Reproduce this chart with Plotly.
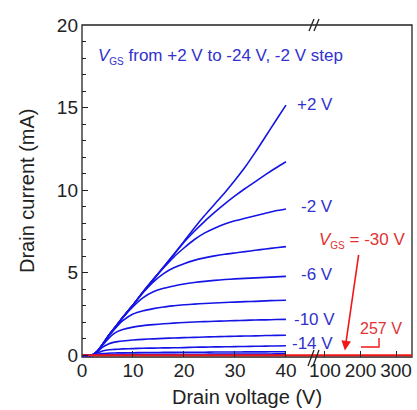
import plotly.graph_objects as go

# ---------------- data ----------------
vd = [0, 2, 3, 4, 5, 6, 7, 8, 10, 12, 14, 16, 18, 20, 22, 24, 26, 28, 30, 32, 34, 36, 38, 40]

id_p2 = [0, 0.02, 0.25, 0.65, 1.1, 1.5, 1.9, 2.3, 3.05, 3.85, 4.6, 5.35, 6.1, 6.9, 7.7, 8.45, 9.15, 9.85, 10.6, 11.4, 12.3, 13.25, 14.2, 15.15]
id_0 = [0, 0.02, 0.25, 0.65, 1.1, 1.5, 1.9, 2.3, 3.05, 3.85, 4.6, 5.35, 6.1, 6.85, 7.5, 8.1, 8.65, 9.17, 9.65, 10.1, 10.52, 10.94, 11.34, 11.72]
id_m2 = [0, 0.02, 0.25, 0.65, 1.1, 1.5, 1.9, 2.3, 3.05, 3.85, 4.6, 5.3, 5.95, 6.5, 7.0, 7.4, 7.7, 7.95, 8.15, 8.3, 8.45, 8.6, 8.75, 8.86]
id_m4 = [0, 0.02, 0.25, 0.65, 1.1, 1.5, 1.9, 2.3, 3.05, 3.8, 4.45, 4.95, 5.3, 5.55, 5.75, 5.9, 6.02, 6.12, 6.2, 6.28, 6.36, 6.44, 6.51, 6.58]
id_m6 = [0, 0.02, 0.25, 0.65, 1.1, 1.5, 1.9, 2.28, 2.95, 3.5, 3.85, 4.06, 4.2, 4.32, 4.41, 4.48, 4.54, 4.59, 4.63, 4.66, 4.69, 4.72, 4.75, 4.78]
id_m8 = [0, 0.02, 0.25, 0.65, 1.08, 1.45, 1.8, 2.1, 2.5, 2.7, 2.83, 2.93, 3.0, 3.06, 3.1, 3.14, 3.17, 3.2, 3.22, 3.25, 3.27, 3.3, 3.32, 3.34]
id_m10 = [0, 0.02, 0.25, 0.6, 0.95, 1.25, 1.45, 1.57, 1.71, 1.8, 1.86, 1.91, 1.95, 1.99, 2.02, 2.04, 2.06, 2.08, 2.1, 2.12, 2.14, 2.15, 2.17, 2.18]
id_m12 = [0, 0.02, 0.22, 0.48, 0.66, 0.77, 0.83, 0.87, 0.93, 0.97, 1.0, 1.03, 1.05, 1.07, 1.09, 1.11, 1.13, 1.14, 1.16, 1.17, 1.18, 1.2, 1.21, 1.22]
id_m14 = [0, 0.02, 0.14, 0.26, 0.32, 0.35, 0.37, 0.39, 0.41, 0.43, 0.44, 0.45, 0.46, 0.47, 0.49, 0.5, 0.51, 0.52, 0.53, 0.54, 0.55, 0.56, 0.57, 0.58]
id_m16 = [0, 0.01, 0.07, 0.11, 0.13, 0.14, 0.15, 0.15, 0.16, 0.17, 0.17, 0.18, 0.18, 0.19, 0.19, 0.19, 0.2, 0.2, 0.2, 0.21, 0.21, 0.21, 0.22, 0.22]
id_m18 = [0, 0.01, 0.03, 0.04, 0.05, 0.05, 0.05, 0.06, 0.06, 0.06, 0.06, 0.07, 0.07, 0.07, 0.07, 0.07, 0.08, 0.08, 0.08, 0.08, 0.08, 0.08, 0.09, 0.09]
id_m20 = [0, 0.01, 0.02, 0.02, 0.02, 0.02, 0.02, 0.02, 0.03, 0.03, 0.03, 0.03, 0.03, 0.03, 0.03, 0.03, 0.03, 0.03, 0.03, 0.03, 0.03, 0.03, 0.03, 0.03]
id_m22 = [0, 0.01, 0.01, 0.01, 0.01, 0.01, 0.01, 0.01, 0.02, 0.02, 0.02, 0.02, 0.02, 0.02, 0.02, 0.02, 0.02, 0.02, 0.02, 0.02, 0.02, 0.02, 0.02, 0.02]
id_m24 = [0, 0.0, 0.01, 0.01, 0.01, 0.01, 0.01, 0.01, 0.01, 0.01, 0.01, 0.01, 0.01, 0.01, 0.01, 0.01, 0.01, 0.01, 0.01, 0.01, 0.01, 0.01, 0.01, 0.01]

vgs_values = [2, 0, -2, -4, -6, -8, -10, -12, -14, -16, -18, -20, -22, -24]
blue_curves = [id_p2, id_0, id_m2, id_m4, id_m6, id_m8, id_m10, id_m12, id_m14,
               id_m16, id_m18, id_m20, id_m22, id_m24]

# V_GS = -30 V (off state) up to breakdown
v_off = [0, 20, 40, 100, 200, 257, 300, 345]
i_off = [0, 0, 0, 0, 0, 0, 0, 0]

left_ticks = [0, 10, 20, 30, 40]
right_ticks = [100, 200, 300]
y_ticks = [0, 5, 10, 15, 20]

curve_labels = ["+2 V", "-2 V", "-6 V", "-10 V", "-14 V"]
label_x = [41.8, 42.6, 42.6, 41.2, 40.8]
label_y = [15.2, 9.0, 4.9, 2.17, 0.72]

# ---------------- figure ----------------
BLUE = "#1414e6"
BLUE_TXT = "#3232cc"
RED = "#f01818"
RED_TXT = "#e03232"
FONT = "Liberation Sans, Arial, sans-serif"

L, R, T, B = 82, 5, 25, 53
W, H = 417, 410
pw = W - L - R
ph = H - T - B
brk = (315 - L) / pw

fig = go.Figure()

for vgs, cur in zip(vgs_values, blue_curves):
    fig.add_trace(go.Scatter(x=vd, y=cur, mode="lines", xaxis="x", yaxis="y",
                             line=dict(color=BLUE, width=1.6, shape="spline", smoothing=0.6),
                             name=f"{vgs} V", showlegend=False, hoverinfo="skip"))

for ax in ["x", "x2"]:
    fig.add_trace(go.Scatter(x=v_off, y=i_off, mode="lines", xaxis=ax, yaxis="y",
                             line=dict(color=RED, width=2.0), showlegend=False,
                             hoverinfo="skip"))

tickfont = dict(family=FONT, size=19, color="#222222")

fig.update_layout(
    width=W, height=H,
    margin=dict(l=L, r=R, t=T, b=B),
    paper_bgcolor="white", plot_bgcolor="white",
    showlegend=False,
    xaxis=dict(domain=[0, brk], range=[0, 45.7], tickvals=left_ticks,
               ticks="inside", ticklen=6, tickcolor="#222", showgrid=False,
               zeroline=False, showline=False, tickfont=tickfont, anchor="y",
               automargin=False),
    xaxis2=dict(domain=[brk, 1], range=[72, 345], tickvals=right_ticks,
                ticks="inside", ticklen=6, tickcolor="#222", showgrid=False,
                zeroline=False, showline=False, tickfont=tickfont, anchor="y",
                automargin=False),
    yaxis=dict(range=[-0.1, 20], tickvals=y_ticks, ticks="inside", ticklen=6,
               tickcolor="#222", showgrid=False, zeroline=False, showline=False,
               tickfont=tickfont, automargin=False, ticklabelstandoff=3,
               minor=dict(ticks="inside", dtick=1, ticklen=4, tickcolor="#222")),
)

def px(xp):
    return (xp - L) / pw

def py(yp):
    return (H - B - yp) / ph

shapes = [
    dict(type="rect", xref="paper", yref="paper", x0=0, y0=0, x1=1, y1=1,
         line=dict(color="#222", width=1.3), layer="below"),
]
# break marks (top and bottom)
for xb in (309, 314):
    shapes.append(dict(type="line", xref="paper", yref="paper",
                       x0=px(xb), y0=py(31), x1=px(xb + 5), y1=py(19),
                       line=dict(color="#222", width=1.3)))
    shapes.append(dict(type="line", xref="paper", yref="paper",
                       x0=px(xb - 1), y0=py(366), x1=px(xb + 5), y1=py(350),
                       line=dict(color="#222", width=1.3)))
# bracket marking 257 V
shapes.append(dict(type="path", xref="paper", yref="paper",
                   path=f"M {px(361)},{py(347)} L {px(379)},{py(347)} L {px(379)},{py(338)}",
                   line=dict(color=RED, width=1.4)))
fig.update_layout(shapes=shapes)

SUB = "<sub><span style='font-size:10px'>GS</span></sub>"
ann = []
ann.append(dict(xref="paper", yref="paper", x=px(96), y=py(57), xanchor="left", yanchor="middle",
                text="<i>V</i>" + SUB + " from +2 V to -24 V, -2 V step", showarrow=False,
                font=dict(family=FONT, size=17, color=BLUE_TXT)))
for t, lx, ly in zip(curve_labels, label_x, label_y):
    ann.append(dict(xref="x", yref="y", x=lx, y=ly, xanchor="left", yanchor="middle",
                    text=t, showarrow=False, font=dict(family=FONT, size=17, color=BLUE_TXT)))
ann.append(dict(xref="paper", yref="paper", x=px(317), y=py(240), xanchor="left", yanchor="middle",
                text="<i>V</i>" + SUB + " = -30 V", showarrow=False,
                font=dict(family=FONT, size=17, color=RED_TXT)))
ann.append(dict(xref="paper", yref="paper", x=px(358), y=py(328), xanchor="left", yanchor="middle",
                text="257 V", showarrow=False, font=dict(family=FONT, size=16, color=RED_TXT)))
ann.append(dict(xref="x2", yref="y", x=156, y=0.3, ax=14, ay=-97, axref="pixel", ayref="pixel",
                text="", showarrow=True, arrowhead=2, arrowsize=1.2, arrowwidth=1.6,
                arrowcolor=RED))
ann.append(dict(xref="paper", yref="paper", x=0.5, y=py(397), xanchor="center", yanchor="middle",
                text="Drain voltage (V)", showarrow=False,
                font=dict(family=FONT, size=20, color="#222")))
ann.append(dict(xref="paper", yref="paper", x=px(27), y=0.5, xanchor="center", yanchor="middle",
                text="Drain current (mA)", textangle=-90, showarrow=False,
                font=dict(family=FONT, size=20, color="#222")))
fig.update_layout(annotations=ann)

fig.write_html("out.html", config={"displayModeBar": False},
               post_script="document.body.style.margin='0';document.body.style.overflow='hidden';")
